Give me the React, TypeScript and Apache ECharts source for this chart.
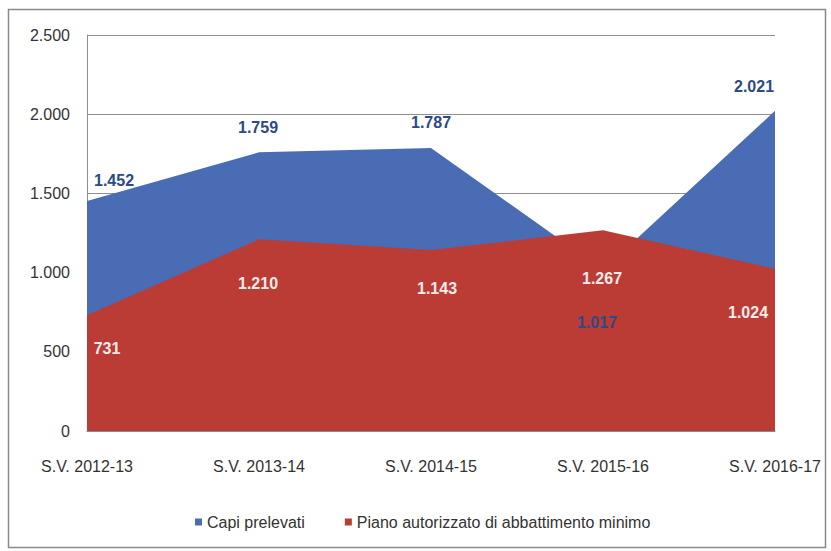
import React, { useEffect, useRef } from "react";
import * as echarts from "echarts";

const categories = ["S.V. 2012-13", "S.V. 2013-14", "S.V. 2014-15", "S.V. 2015-16", "S.V. 2016-17"];
const capiPrelevati = [1452, 1759, 1787, 1017, 2021];
const pianoAutorizzato = [731, 1210, 1143, 1267, 1024];
const yTicks = { min: 0, max: 2500, interval: 500 };
const seriesNames = ["Capi prelevati", "Piano autorizzato di abbattimento minimo"];

// label placement tweaks (style only)
const blueLabelOffsets = [[27, -21], [-1, -25], [0, -25], [-6, 53], [-21, -24]];
const redLabelOffsets = [[20, 33], [-1, 44], [6, 39], [-1, 48], [-27, 44]];

const fmt = (v: number) => String(v).replace(/\B(?=(\d{3})+(?!\d))/g, ".");
const FONT = "'Liberation Sans Narrow', 'Liberation Sans', Arial, sans-serif";

export default function App() {
  const ref = useRef<HTMLDivElement>(null);
  useEffect(() => {
    if (!ref.current) return;
    const chart = echarts.init(ref.current, undefined, { renderer: "svg" });
    const mk = (vals: number[], offs: number[][], color: string) =>
      vals.map((v, i) => ({
        value: v,
        label: {
          show: true,
          position: "inside",
          offset: offs[i],
          formatter: () => fmt(v),
          color,
          fontSize: 16,
          fontWeight: "bold",
          fontFamily: FONT,
        },
      }));
    chart.setOption({
      animation: false,
      backgroundColor: "#ffffff",
      textStyle: { fontFamily: FONT },
      graphic: [
        {
          type: "rect",
          shape: { x: 8.5, y: 9.5, width: 817, height: 538 },
          style: { fill: "none", stroke: "#8a8a8a", lineWidth: 1.5 },
          silent: true,
          z: -10,
        },
      ],
      grid: { left: 87, right: 56, top: 35, bottom: 120, containLabel: false },
      legend: {
        left: 190,
        top: 509,
        icon: "rect",
        itemWidth: 7,
        itemHeight: 7,
        itemGap: 40,
        textStyle: { fontSize: 16, color: "#333", fontFamily: FONT },
        data: seriesNames,
      },
      xAxis: {
        type: "category",
        data: categories,
        boundaryGap: false,
        axisLine: { show: true, lineStyle: { color: "#8a8a8a", width: 1 } },
        axisTick: { show: false },
        axisLabel: { margin: 27, fontSize: 16, color: "#333", fontFamily: FONT },
        splitLine: { show: false },
      },
      yAxis: {
        type: "value",
        min: yTicks.min,
        max: yTicks.max,
        interval: yTicks.interval,
        axisLine: { show: true, lineStyle: { color: "#8f8f8f", width: 1 } },
        axisTick: { show: false },
        axisLabel: { margin: 17, fontSize: 16, color: "#333", fontFamily: FONT, formatter: (v: number) => fmt(v) },
        splitLine: { show: true, lineStyle: { color: "#8f8f8f", width: 1 } },
      },
      series: [
        {
          name: seriesNames[0],
          type: "line",
          data: mk(capiPrelevati, blueLabelOffsets, "#2d4a85"),
          symbol: "circle",
          symbolSize: 0,
          showSymbol: true,
          itemStyle: { color: "#4a6cb4" },
          lineStyle: { width: 0, opacity: 0 },
          areaStyle: { color: "#4a6cb4", opacity: 1 },
        },
        {
          name: seriesNames[1],
          type: "line",
          data: mk(pianoAutorizzato, redLabelOffsets, "#f6eceb"),
          symbol: "circle",
          symbolSize: 0,
          showSymbol: true,
          itemStyle: { color: "#bb3b35" },
          lineStyle: { width: 0, opacity: 0 },
          areaStyle: { color: "#bb3b35", opacity: 1 },
        },
      ],
    });
    return () => chart.dispose();
  }, []);
  return (
    <div
      ref={ref}
      style={{ position: "fixed", left: 0, top: 0, width: 831, height: 551, background: "#fff" }}
    />
  );
}
